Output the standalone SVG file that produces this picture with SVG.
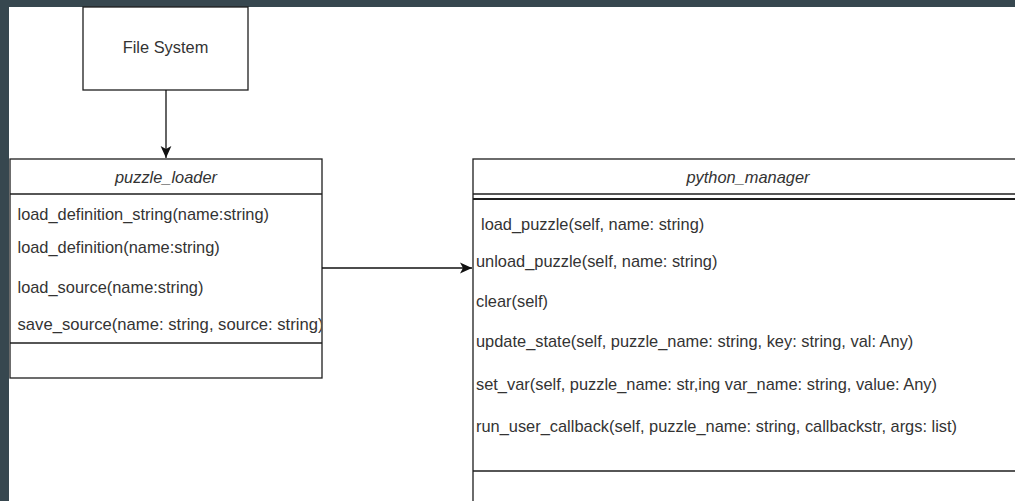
<svg xmlns="http://www.w3.org/2000/svg" width="1015" height="501" viewBox="0 0 1015 501">
  <style>
    .box { fill: #ffffff; stroke: #1e1e1e; stroke-width: 1.3; }
    .ln { stroke: #1e1e1e; stroke-width: 1.3; fill: none; }
    .txt { font-family: "Liberation Sans", Arial, sans-serif; font-size: 16.4px; fill: #333333; }
    .title { font-style: italic; text-anchor: middle; }
    .conn { stroke: #111111; stroke-width: 1.3; fill: none; }
  </style>
  <defs>
    <marker id="arrow" markerUnits="userSpaceOnUse" markerWidth="12" markerHeight="12" viewBox="0 0 10 10" refX="10" refY="5" orient="auto">
      <path d="M0,0.5 L10,5 L0,9.5 L2.5,5 z" fill="#111111"/>
    </marker>
    <clipPath id="clipLoader">
      <rect x="10" y="194" width="311.5" height="149"/>
    </clipPath>
  </defs>
  <rect x="0" y="0" width="1015" height="501" fill="#37474f"/>
  <rect x="9" y="7" width="1006" height="494" fill="#ffffff"/>

  <g id="file_system">
    <rect class="box" x="83" y="7" width="165" height="83"/>
    <text class="txt" x="165.5" y="53" text-anchor="middle">File System</text>
  </g>

  <g id="puzzle_loader">
    <rect class="box" x="10" y="159" width="312" height="219"/>
    <line class="ln" x1="10" y1="194" x2="322" y2="194"/>
    <line class="ln" x1="10" y1="343" x2="322" y2="343"/>
    <text class="txt title" x="166" y="183">puzzle_loader</text>
    <g clip-path="url(#clipLoader)">
      <text class="txt" x="17.5" y="219.5">load_definition_string(name:string)</text>
      <text class="txt" x="17.5" y="253">load_definition(name:string)</text>
      <text class="txt" x="17.5" y="292.5">load_source(name:string)</text>
      <text class="txt" x="17.5" y="330" textLength="306" lengthAdjust="spacingAndGlyphs">save_source(name: string, source: string)</text>
    </g>
  </g>

  <g id="python_manager">
    <rect class="box" x="473" y="159" width="560" height="360"/>
    <line class="ln" x1="473" y1="194" x2="1015" y2="194"/>
    <line class="ln" x1="473" y1="199" x2="1015" y2="199" style="stroke-width:1.8"/>
    <line class="ln" x1="473" y1="471" x2="1015" y2="471"/>
    <text class="txt title" x="748" y="183">python_manager</text>
    <text class="txt" x="481" y="230">load_puzzle(self, name: string)</text>
    <text class="txt" x="476" y="267">unload_puzzle(self, name: string)</text>
    <text class="txt" x="476" y="307">clear(self)</text>
    <text class="txt" x="476" y="347">update_state(self, puzzle_name: string, key: string, val: Any)</text>
    <text class="txt" x="476" y="390">set_var(self, puzzle_name: str,ing var_name: string, value: Any)</text>
    <text class="txt" x="476" y="432">run_user_callback(self, puzzle_name: string, callbackstr, args: list)</text>
  </g>

  <g id="connectors">
    <line class="conn" x1="166" y1="90" x2="166" y2="158" marker-end="url(#arrow)"/>
    <line class="conn" x1="322" y1="268" x2="472" y2="268" marker-end="url(#arrow)"/>
  </g>
</svg>
